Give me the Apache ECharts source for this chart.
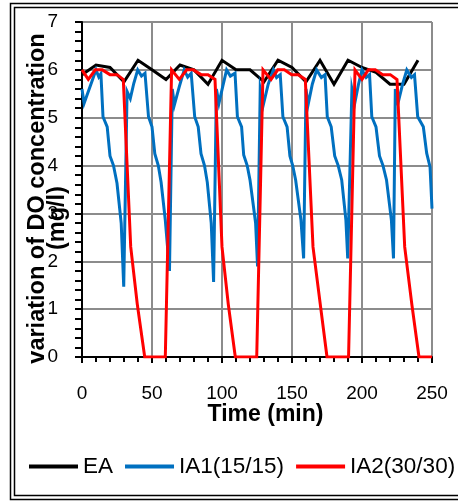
<!DOCTYPE html>
<html>
<head>
<meta charset="utf-8">
<script src="https://cdn.jsdelivr.net/npm/echarts@6/dist/echarts.min.js"></script>
<style>
html,body{margin:0;padding:0;background:#fff;}
#c{width:458px;height:502px;}
</style>
</head>
<body>
<div id="c"></div>
<script>
// ---- data (time in min, DO in mg/l) ----
const seriesNames = ['EA', 'IA1(15/15)', 'IA2(30/30)'];
const xTicks = [0, 50, 100, 150, 200, 250];
const yTicks = [0, 1, 2, 3, 4, 5, 6, 7];

const eaTime = [0, 10, 20, 30, 40, 50, 60, 70, 80, 90, 100, 110, 120, 130, 140, 150, 160, 170, 180, 190, 200, 210, 220, 230, 240];
const eaDO   = [5.9, 6.1, 6.05, 5.75, 6.2, 6.0, 5.8, 6.1, 6.0, 5.7, 6.2, 6.0, 6.0, 5.75, 6.2, 6.05, 5.75, 6.2, 5.7, 6.2, 6.05, 5.95, 5.7, 5.7, 6.2];

const ia1Time = [
  0, 1.5, 7, 10, 12, 13.5, 15, 18, 20, 22.5, 25, 28, 29.8,
  32.2, 34.5, 37, 39.8, 42.5, 45, 47.5, 50, 52, 54.5, 56.5, 59.5, 62.5,
  64.5, 66, 69.5, 73, 75.5, 78, 80.5, 83, 85, 87.5, 89.5, 92.3, 94,
  96, 97.8, 100.5, 103.3, 106, 109.3, 111, 114, 115.5, 118, 120, 124, 125.4,
  127.3, 129.5, 133, 136.7, 139, 141.6, 143.5, 146.5, 148.5, 150.5, 152.6, 156.4, 158.3,
  160, 161.5, 164.5, 167.6, 171, 173.6, 175.2, 178, 180.5, 183, 185.5, 188.5, 189.8,
  192.8, 194.8, 197.5, 200, 203, 205.4, 207, 210, 212.5, 215, 217.5, 221, 222.5,
  223.8, 225.7, 229, 232, 235.3, 237.5, 239.8, 243.8, 246.2, 248.6, 250
];
const ia1DO = [
  5.6, 5.3, 5.75, 6.0, 5.85, 5.92, 5.02, 4.81, 4.2, 4.0, 3.63, 2.8, 1.47,
  5.55, 5.4, 5.72, 6.0, 5.87, 5.93, 5.02, 4.81, 4.25, 4.0, 3.65, 2.86, 1.8,
  5.6, 5.27, 5.65, 6.0, 5.85, 5.93, 5.02, 4.81, 4.25, 4.0, 3.65, 2.8, 1.57,
  5.6, 5.3, 5.65, 6.0, 5.87, 5.93, 5.02, 4.81, 4.22, 4.0, 3.7, 2.8, 1.89,
  5.6, 5.27, 5.7, 6.0, 5.84, 5.9, 5.02, 4.81, 4.2, 4.0, 3.7, 2.86, 2.06,
  5.6, 5.27, 5.7, 6.0, 5.84, 5.9, 5.02, 4.81, 4.2, 4.0, 3.7, 2.86, 2.06,
  5.6, 5.3, 5.7, 6.0, 5.84, 5.9, 5.02, 4.81, 4.2, 4.0, 3.7, 2.86, 2.06,
  5.6, 5.3, 5.7, 6.0, 5.84, 5.9, 5.02, 4.81, 4.26, 3.97, 3.1
];

const ia2Time = [
  0, 4.5, 9.5, 14.5, 20, 25, 29.5, 34.8, 39.5, 44.8, 49.8, 54.8, 59.5,
  64, 69.5, 74.8, 79.5, 85, 90, 95, 100, 104.5, 109.5, 114.5, 119.5, 124.8,
  129.3, 135, 139.8, 144.5, 149.8, 154.5, 159.5, 165, 170.2, 175, 180, 185, 190.4,
  195, 200, 204.5, 209.5, 214.8, 220.2, 225, 230.5, 235.6, 240.7, 245, 250
];
const ia2DO = [
  6.0, 5.8, 6.0, 6.0, 5.9, 5.9, 5.8, 2.3, 1.1, 0, 0, 0, 0,
  6.0, 5.8, 6.0, 6.0, 5.9, 5.9, 5.8, 2.3, 1.1, 0, 0, 0, 0,
  6.0, 5.8, 6.0, 6.0, 5.9, 5.9, 5.8, 2.3, 1.1, 0, 0, 0, 0,
  6.0, 5.8, 6.0, 6.0, 5.9, 5.9, 5.8, 2.3, 1.1, 0, 0, 0
];

const pairs = (xs, ys) => xs.map((x, i) => [x, ys[i]]);

const font = '"Liberation Sans", Arial, sans-serif';
const chart = echarts.init(document.getElementById('c'), null, {renderer: 'canvas'});

const lineSeries = (name, xs, ys, color) => ({
  name, type: 'line', data: pairs(xs, ys),
  showSymbol: false, symbol: 'none', smooth: false, clip: true,
  lineStyle: {color, width: 3, join: 'miter'},
  itemStyle: {color},
  animation: false
});

chart.setOption({
  animation: false,
  backgroundColor: '#ffffff',
  textStyle: {fontFamily: font},
  grid: {left: 82, top: 22, right: 26, bottom: 145, containLabel: false, outerBoundsMode: 'none'},
  graphic: [
    {type: 'rect', shape: {x: 10.5, y: 3.5, width: 470, height: 496}, style: {fill: 'none', stroke: '#000', lineWidth: 1.5}, silent: true},
    {type: 'rect', shape: {x: 14.5, y: 7.5, width: 470, height: 488}, style: {fill: 'none', stroke: '#000', lineWidth: 1.5}, silent: true}
  ],
  legend: {
    left: 29, top: 455, padding: 0,
    itemWidth: 49, itemHeight: 4, itemGap: 12,
    icon: 'rect',
    textStyle: {fontFamily: font, fontSize: 22.5, color: '#000'},
    data: seriesNames
  },
  xAxis: {
    type: 'value', min: 0, max: 250, interval: 50,
    name: 'Time (min)', nameLocation: 'middle', nameGap: 46, nameMoveOverlap: false,
    nameTextStyle: {fontFamily: font, fontSize: 23, fontWeight: 'bold', color: '#000', padding: [0, 0, 0, 17]},
    axisLine: {onZero: false, lineStyle: {color: '#000', width: 2}},
    axisTick: {show: true, inside: false, length: 6, lineStyle: {color: '#000', width: 2}},
    minorTick: {show: true, splitNumber: 5, length: 5, lineStyle: {color: '#000', width: 2}},
    axisLabel: {fontFamily: font, fontSize: 19, color: '#000', margin: 27, hideOverlap: false,
      formatter: v => String(v)},
    splitLine: {show: true, lineStyle: {color: '#8c8c8c', width: 2}}
  },
  yAxis: {
    type: 'value', min: 0, max: 7, interval: 1,
    name: 'variation of DO concentration\n(mg/l)      ', nameLocation: 'middle', nameGap: 14, nameRotate: 90,
    nameMoveOverlap: false,
    nameTextStyle: {fontFamily: font, fontSize: 23.5, fontWeight: 'bold', color: '#000', lineHeight: 20, padding: [0, 18, 0, 0]},
    axisLine: {show: true, onZero: false, lineStyle: {color: '#000', width: 2}},
    axisTick: {show: true, inside: false, length: 7, lineStyle: {color: '#000', width: 2}},
    minorTick: {show: true, splitNumber: 5, length: 7, lineStyle: {color: '#000', width: 2}},
    axisLabel: {fontFamily: font, fontSize: 19, color: '#000', margin: 24, hideOverlap: false,
      formatter: v => String(v)},
    splitLine: {show: true, lineStyle: {color: '#8c8c8c', width: 2}}
  },
  series: [
    lineSeries(seriesNames[0], eaTime, eaDO, '#000000'),
    lineSeries(seriesNames[1], ia1Time, ia1DO, '#0070c0'),
    lineSeries(seriesNames[2], ia2Time, ia2DO, '#ff0000')
  ]
});
</script>
</body>
</html>
